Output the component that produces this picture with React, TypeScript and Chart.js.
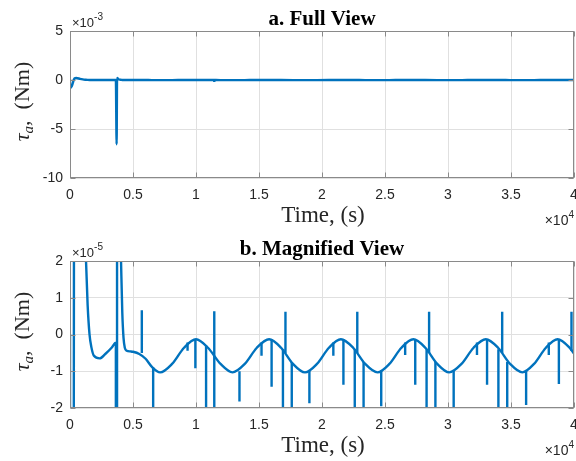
import React, { useEffect, useRef } from "react";
import { Chart, registerables } from "chart.js";

Chart.register(...registerables);

// ---- data (time in s, torque in Nm) ----
const baseTime = [
  0, 10, 150, 350, 500, 800, 1100, 1250, 1400, 1550, 1700, 1900, 2350, 2800, 3300, 3640,
  3700, 3735, 3850, 3950, 4050, 4150, 4250, 4350, 4500, 4800, 5000, 5500, 6000, 6500, 7150,
  8100, 9050, 10000, 10950, 11950, 12900, 13870, 14830, 15800, 16750, 17700, 18650,
  19600, 20550, 21500, 22470, 23430, 24400, 25350, 26300, 27250, 28200, 29150, 30100,
  31070, 32030, 33000, 33970, 34930, 35900, 36830, 37770, 38700, 39650, 40000,
];
const baseTorque = [
  0, -8.0e-4, -6.0e-4, 1.5e-4, 2.0e-4, 1.2e-4, 4.0e-5, 2.2e-5, 8.0e-6, 0, -3.5e-6, -5.8e-6,
  -6.5e-6, -5.3e-6, -3.6e-6, -2.2e-6,
  -6.55e-3, 2.0e-4, 8.0e-5, 3.5e-5, 2.0e-5, 6.0e-6, -1.0e-6, -3.6e-6, -4.4e-6, -4.6e-6,
  -4.7e-6, -5.3e-6, -6.6e-6, -8.8e-6, -1.03e-5,
  -8.0e-6, -3.6e-6, -1.3e-6, -3.6e-6, -8.0e-6, -1.03e-5, -8.0e-6, -3.6e-6, -1.3e-6,
  -3.6e-6, -8.0e-6, -1.03e-5, -8.0e-6, -3.6e-6, -1.3e-6, -3.6e-6, -8.0e-6, -1.03e-5,
  -8.0e-6, -3.6e-6, -1.3e-6, -3.6e-6, -8.0e-6, -1.03e-5, -8.0e-6, -3.6e-6, -1.3e-6,
  -3.6e-6, -8.0e-6, -1.03e-5, -8.0e-6, -3.6e-6, -1.3e-6, -3.6e-6, -5.2e-6,
];

// short spikes: time, value where it leaves the curve, value at its tip
const spikeTime = [
  5700, 6600, 9330, 9950, 10800, 11450, 11450, 13450, 15200, 16000, 16900, 17100, 17600,
  19000, 20900, 21700, 22600, 22800, 23300, 24700, 26600, 27400, 28300, 28500, 29000,
  30450, 32300, 33100, 34000, 34300, 34700, 36200, 38000, 38800, 39800,
];
const spikeFrom = [
  -5.0e-6, -9.0e-6, -2.2e-6, -1.3e-6, -3.0e-6, -5.5e-6, -5.5e-6, -1.0e-5, -2.2e-6, -1.3e-6,
  -4.0e-6, -5.0e-6, -7.5e-6, -9.8e-6, -2.2e-6, -1.3e-6, -4.0e-6, -5.0e-6, -7.5e-6, -9.8e-6,
  -2.2e-6, -1.3e-6, -4.0e-6, -5.0e-6, -7.5e-6, -9.8e-6, -2.2e-6, -1.3e-6, -4.0e-6, -5.0e-6,
  -7.5e-6, -9.8e-6, -2.2e-6, -1.3e-6, -4.5e-6,
];
const spikeTo = [
  6.6e-6, -3.0e-5, -4.4e-6, -9.2e-6, -3.0e-5, 6.3e-6, -2.0e-4, -1.82e-5, -5.8e-6, -1.42e-5,
  -3.0e-5, 6.2e-6, -3.0e-5, -1.87e-5, -5.8e-6, -1.37e-5, -3.0e-5, 6.2e-6, -3.0e-5, -1.95e-5,
  -5.6e-6, -1.37e-5, -3.0e-5, 6.2e-6, -3.0e-5, -3.0e-5, -5.6e-6, -1.37e-5, -3.0e-5, 6.2e-6,
  -3.0e-5, -1.92e-5, -5.6e-6, -1.35e-5, 6.2e-6,
];

const xTicks = [0, 5000, 10000, 15000, 20000, 25000, 30000, 35000, 40000];
const topYTicks = [-0.01, -0.005, 0, 0.005];
const bottomYTicks = [-2e-5, -1e-5, 0, 1e-5, 2e-5];

const BLUE = "#0072BD";
const TEXT = "#262626";

function fmt(v: number, unit: number) {
  const r = Math.round((v / unit) * 10) / 10;
  return String(r);
}

function makePlugin(title: string, expo: string) {
  return {
    id: "decor",
    afterDraw(chart: any) {
      const ctx = chart.ctx as CanvasRenderingContext2D;
      const a = chart.chartArea;
      const xs = chart.scales.x;
      const ys = chart.scales.y;
      ctx.save();
      // box
      ctx.strokeStyle = "#8a8a8a";
      ctx.lineWidth = 1;
      const L = Math.round(a.left) + 0.5;
      const R = Math.round(a.right) - 0.5;
      const T = Math.round(a.top) + 0.5;
      const B = Math.round(a.bottom) - 0.5;
      ctx.strokeRect(L, T, R - L, B - T);
      // inner ticks
      ctx.beginPath();
      for (const t of xs.ticks) {
        const px = Math.round(xs.getPixelForValue(t.value)) + 0.5;
        ctx.moveTo(px, B); ctx.lineTo(px, B - 5);
        ctx.moveTo(px, T); ctx.lineTo(px, T + 5);
      }
      for (const t of ys.ticks) {
        const py = Math.round(ys.getPixelForValue(t.value)) + 0.5;
        ctx.moveTo(L, py); ctx.lineTo(L + 5, py);
        ctx.moveTo(R, py); ctx.lineTo(R - 5, py);
      }
      ctx.stroke();

      const cx = (a.left + a.right) / 2;
      // title
      ctx.fillStyle = "#000";
      ctx.font = 'bold 21px "Liberation Serif"';
      ctx.textAlign = "center";
      ctx.textBaseline = "alphabetic";
      ctx.fillText(title, cx, a.top - 6);

      // y exponent
      ctx.fillStyle = TEXT;
      ctx.textAlign = "left";
      ctx.font = '13px "Liberation Sans"';
      const base = "\u00d710";
      ctx.fillText(base, a.left + 2, a.top - 4);
      const bw = ctx.measureText(base).width;
      ctx.font = '10px "Liberation Sans"';
      ctx.fillText(expo, a.left + 2 + bw, a.top - 11);

      // x exponent at right
      ctx.font = '10px "Liberation Sans"';
      const sw = ctx.measureText("4").width;
      ctx.font = '14px "Liberation Sans"';
      const bw2 = ctx.measureText(base).width;
      const xr = chart.width - 2;
      ctx.fillText(base, xr - sw - bw2, a.bottom + 47);
      ctx.font = '10px "Liberation Sans"';
      ctx.fillText("4", xr - sw, a.bottom + 40);

      // x title
      ctx.fillStyle = TEXT;
      ctx.textAlign = "center";
      ctx.font = '23px "Liberation Serif"';
      ctx.fillText("Time, (s)", cx + 1, a.bottom + 44);

      // y title (rotated)
      ctx.translate(29, (a.top + a.bottom) / 2 - 3);
      ctx.rotate(-Math.PI / 2);
      ctx.textAlign = "left";
      const parts: [string, string, number][] = [
        ["\u03c4", 'italic 22px "Liberation Serif"', 0],
        ["a", 'italic 15px "Liberation Serif"', 4],
        [",", '22px "Liberation Serif"', 0],
        ["  (Nm)", '22px "Liberation Serif"', 0],
      ];
      let total = 0;
      for (const [s, f] of parts) { ctx.font = f; total += ctx.measureText(s).width; }
      let x = -total / 2;
      for (const [s, f, dy] of parts) {
        ctx.font = f;
        ctx.fillText(s, x, dy);
        x += ctx.measureText(s).width;
      }
      ctx.restore();
    },
  };
}

function buildConfig(yMin: number, yMax: number, yTicks: number[], yUnit: number, title: string, expo: string, h: number) {
  const baseData = baseTime.map((t, i) => ({ x: t, y: baseTorque[i] }));
  const spikeData: { x: number; y: number | null }[] = [];
  spikeTime.forEach((t, i) => {
    spikeData.push({ x: t, y: spikeFrom[i] });
    spikeData.push({ x: t, y: spikeTo[i] });
    spikeData.push({ x: t, y: null });
  });
  return {
    type: "line" as const,
    data: {
      datasets: [
        {
          data: baseData,
          borderColor: BLUE,
          borderWidth: 2.4,
          pointRadius: 0,
          cubicInterpolationMode: "monotone" as const,
          fill: false,
        },
        {
          data: spikeData,
          borderColor: BLUE,
          borderWidth: 2.4,
          pointRadius: 0,
          tension: 0,
          spanGaps: false,
          fill: false,
        },
      ],
    },
    options: {
      animation: false as const,
      responsive: false,
      devicePixelRatio: 1,
      events: [],
      layout: { padding: { top: 31, right: 2, left: 0, bottom: 0 } },
      plugins: { legend: { display: false }, tooltip: { enabled: false }, title: { display: false } },
      scales: {
        x: {
          type: "linear" as const,
          min: 0,
          max: 40000,
          afterBuildTicks: (s: any) => { s.ticks = xTicks.map((v) => ({ value: v })); },
          afterFit: (s: any) => { s.height = h - 178; s.paddingLeft = 0; s.paddingRight = 0; },
          grid: { color: "#e0e0e0", drawTicks: false },
          border: { display: false },
          ticks: {
            padding: 9,
            color: TEXT,
            font: { family: "Liberation Sans", size: 14 },
            maxRotation: 0,
            autoSkip: false,
            callback: (v: any) => fmt(Number(v), 1e4),
          },
        },
        y: {
          type: "linear" as const,
          min: yMin,
          max: yMax,
          afterBuildTicks: (s: any) => { s.ticks = yTicks.map((v) => ({ value: v })); },
          afterFit: (s: any) => { s.width = 70; s.paddingTop = 0; s.paddingBottom = 0; },
          grid: { color: "#e0e0e0", drawTicks: false },
          border: { display: false },
          ticks: {
            padding: 7,
            color: TEXT,
            font: { family: "Liberation Sans", size: 14 },
            autoSkip: false,
            callback: (v: any) => fmt(Number(v), yUnit),
          },
        },
      },
    },
    plugins: [makePlugin(title, expo)],
  };
}

function Panel({ top, h, cfg }: { top: number; h: number; cfg: () => any }) {
  const ref = useRef<HTMLCanvasElement | null>(null);
  useEffect(() => {
    if (!ref.current) return;
    const chart = new Chart(ref.current, cfg());
    return () => chart.destroy();
  }, []);
  return (
    <canvas
      ref={ref}
      width={576}
      height={h}
      style={{ position: "absolute", left: 0, top, width: 576, height: h }}
    />
  );
}

export default function App() {
  return (
    <div style={{ position: "absolute", left: 0, top: 0, width: 576, height: 461, background: "#fff", overflow: "hidden" }}>
      <Panel top={0} h={230} cfg={() => buildConfig(-0.01, 0.005, topYTicks, 1e-3, "a. Full View", "-3", 230)} />
      <Panel top={230} h={231} cfg={() => buildConfig(-2e-5, 2e-5, bottomYTicks, 1e-5, "b. Magnified View", "-5", 231)} />
    </div>
  );
}
